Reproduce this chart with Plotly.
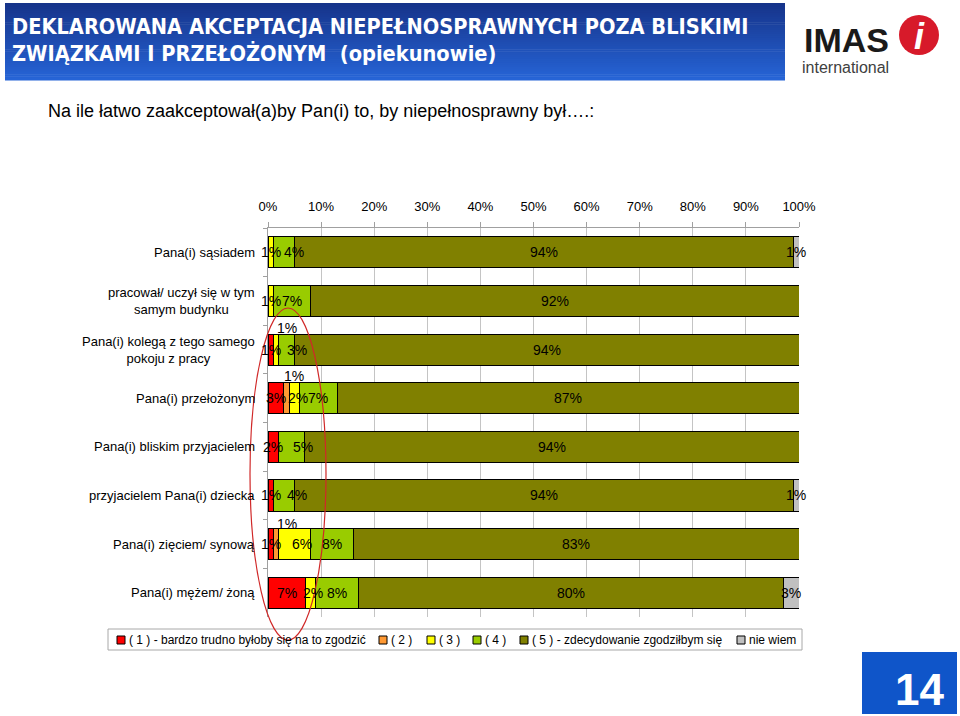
import plotly.graph_objects as go

# ---------------- data ----------------
categories = [
    "Pana(i) sąsiadem",
    "pracował/ uczył się w tym<br>samym budynku",
    "Pana(i) kolegą z tego samego<br>pokoju z pracy",
    "Pana(i) przełożonym",
    "Pana(i) bliskim przyjacielem",
    "przyjacielem Pana(i) dziecka",
    "Pana(i) zięciem/ synową",
    "Pana(i) mężem/ żoną",
]
series_names = [
    "( 1 ) - bardzo trudno byłoby się na to zgodzić",
    "( 2 )",
    "( 3 )",
    "( 4 )",
    "( 5 ) - zdecydowanie zgodziłbym się",
    "nie wiem",
]
s1 = [0, 0, 1, 3, 2, 1, 1, 7]
s2 = [0, 0, 0, 1, 0, 0, 1, 0]
s3 = [1, 1, 1, 2, 0, 0, 6, 2]
s4 = [4, 7, 3, 7, 5, 4, 8, 8]
s5 = [94, 92, 94, 87, 94, 94, 83, 80]
s6 = [1, 0, 0, 0, 0, 1, 0, 3]
series_values = [s1, s2, s3, s4, s5, s6]
tick_values = [0, 10, 20, 30, 40, 50, 60, 70, 80, 90, 100]
tick_labels = ["0%", "10%", "20%", "30%", "40%", "50%", "60%", "70%", "80%", "90%", "100%"]

# ---------------- style ----------------
colors = ["#FF0000", "#FF9933", "#FFFF00", "#99CC00", "#808000", "#C0C0C0"]
FONT = "Liberation Sans, Arial, Helvetica, sans-serif"
NARROW = "Liberation Sans Narrow, Arial Narrow, DejaVu Sans Condensed, sans-serif"
W, H = 960, 716
L, R, T, B = 268, 799, 228, 617

def px(x):
    return (x - L) / (R - L)

def py(y):
    return (B - y) / (B - T)

# label shifts (pixels) for manually moved labels: (row, series) -> (dx, dy)
label_shift = {
    (0, 3): (10, 0),
    (2, 2): (11, 22),
    (2, 3): (10, 0),
    (3, 1): (7, 22),
    (3, 2): (3, 0),
    (4, 3): (11, 0),
    (5, 3): (13, 0),
    (6, 1): (11, 20),
    (6, 2): (7, 0),
    (7, 2): (3, 0),
}

fig = go.Figure()
for name, vals, col in zip(series_names, series_values, colors):
    fig.add_trace(go.Bar(
        x=vals, y=categories, orientation="h", name=name,
        marker=dict(color=col, line=dict(color="#000000", width=1)),
        showlegend=False, hoverinfo="x+y+name",
    ))

annotations = []
shapes = []

def note(x, y, text, size, color="#000000", family=FONT, xanchor="center", align="center"):
    annotations.append(dict(x=px(x), y=py(y), xref="paper", yref="paper", text=text,
                            showarrow=False, xanchor=xanchor, yanchor="middle", align=align,
                            font=dict(family=family, size=size, color=color)))

# data labels from normalised cumulative sums
for i, cat in enumerate(categories):
    row = [sv[i] for sv in series_values]
    tot = sum(row)
    cum = 0.0
    for j, v in enumerate(row):
        if v > 0:
            mid = (cum + v / 2) / tot * 100
            dx, dy = label_shift.get((i, j), (0, 0))
            annotations.append(dict(
                x=mid, y=cat, xref="x", yref="y", text=f"{v}%", showarrow=False,
                xanchor="center", yanchor="middle",
                xshift=dx, yshift=dy, font=dict(family=FONT, size=14, color="#000000"),
            ))
        cum += v

# category labels (centred multi-line, right edge near axis)
for cat in categories:
    annotations.append(dict(
        x=px(257), y=cat, xref="paper", yref="y", text=cat, showarrow=False,
        xanchor="right", yanchor="middle", align="center",
        font=dict(family=FONT, size=13, color="#000000"),
    ))

# title band with vertical gradient
n_strips = 40
top_c = (22, 52, 138)
bot_c = (38, 100, 214)
y0b, y1b = 3, 80
for k in range(n_strips):
    t = k / (n_strips - 1)
    c = tuple(int(round(top_c[m] + (bot_c[m] - top_c[m]) * t)) for m in range(3))
    ya = y0b + (y1b - y0b) * k / n_strips
    yb = y0b + (y1b - y0b) * (k + 1) / n_strips + 0.6
    shapes.append(dict(type="rect", xref="paper", yref="paper", x0=px(5), x1=px(785),
                       y0=py(ya), y1=py(yb), fillcolor="rgb(%d,%d,%d)" % c,
                       line=dict(width=0), layer="below"))

note(10, 27, "<b>DEKLAROWANA AKCEPTACJA NIEPEŁNOSPRAWNYCH POZA BLISKIMI</b>", 21.6,
     "#FFFFFF", NARROW, xanchor="left")
note(10, 53, "<b>ZWIĄZKAMI I PRZEŁOŻONYM \u00a0(opiekunowie)</b>", 21.6,
     "#FFFFFF", NARROW, xanchor="left")

# subtitle
note(46, 111, "Na ile łatwo zaakceptował(a)by Pan(i) to, by niepełnosprawny był….:", 18,
     xanchor="left")

# logo
note(846, 40, "<b>IMAS</b>", 34, "#1A1A1A")
note(845, 67, "international", 16, "#404040")
shapes.append(dict(type="circle", xref="paper", yref="paper", x0=px(899), x1=px(939),
                   y0=py(55), y1=py(15), fillcolor="#D71A2A", line=dict(width=0)))
note(919, 36, "<b><i>i</i></b>", 36, "#FFFFFF")

# page number box
shapes.append(dict(type="rect", xref="paper", yref="paper", x0=px(862), x1=px(957),
                   y0=py(714), y1=py(652), fillcolor="#0F55C9", line=dict(width=0)))
note(919, 689, "<b>14</b>", 44, "#FFFFFF")

# manual legend
shapes.append(dict(type="rect", xref="paper", yref="paper", x0=px(108), x1=px(802),
                   y0=py(650), y1=py(629), fillcolor="rgba(255,255,255,0)",
                   line=dict(color="#A8A8A8", width=1)))
legend_x = [117, 379, 427, 473, 520, 737]
for lx, name, col in zip(legend_x, series_names, colors):
    shapes.append(dict(type="rect", xref="paper", yref="paper", x0=px(lx), x1=px(lx + 8),
                       y0=py(644), y1=py(636), fillcolor=col,
                       line=dict(color="#000000", width=1)))
    note(lx + 10, 640, name, 12, xanchor="left")

# red hand-drawn ellipse
shapes.append(dict(type="circle", xref="paper", yref="paper", x0=px(250), x1=px(326),
                   y0=py(640), y1=py(308), line=dict(color="#D02828", width=1.2),
                   fillcolor="rgba(0,0,0,0)", layer="above"))

fig.update_layout(
    width=W, height=H,
    margin=dict(l=L, r=W - R, t=T, b=H - B, pad=0),
    paper_bgcolor="#FFFFFF", plot_bgcolor="#FFFFFF",
    barmode="stack", barnorm="percent", bargap=0.36,
    showlegend=False,
    font=dict(family=FONT, size=13, color="#000000"),
    annotations=annotations, shapes=shapes,
    xaxis=dict(side="top", range=[0, 100], tickvals=tick_values, ticktext=tick_labels,
               showgrid=True, gridcolor="#C4C4C4", gridwidth=1,
               showline=True, linecolor="#A0A0A0", linewidth=1,
               ticks="outside", ticklen=5, tickcolor="#A0A0A0", ticklabelstandoff=6,
               tickfont=dict(family=FONT, size=13, color="#000000"), zeroline=False,
               fixedrange=True),
    yaxis=dict(type="category", autorange="reversed", showticklabels=False,
               showline=True, linecolor="#A0A0A0", linewidth=1,
               ticks="outside", ticklen=4, tickcolor="#A0A0A0", tickson="boundaries",
               showgrid=False, fixedrange=True),
)

fig.write_html("out.html", config={"displayModeBar": False},
               post_script="document.body.style.margin='0';")
